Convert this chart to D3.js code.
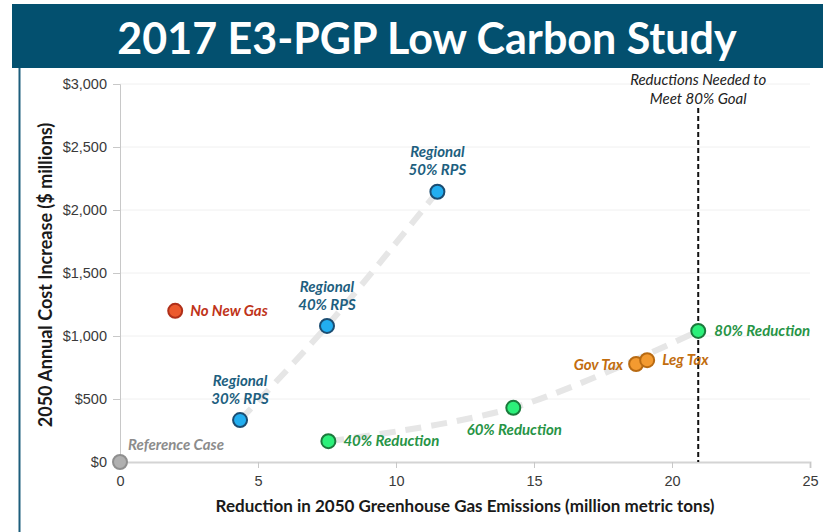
<!DOCTYPE html>
<html lang="en">
<head>
<meta charset="UTF-8">
<title>2017 E3-PGP Low Carbon Study</title>
<script src="https://cdn.jsdelivr.net/npm/d3@7"></script>
<style>
body { margin: 0; background: #fff; }
svg { display: block; font-family: Lato, "Open Sans", sans-serif; }
.tick text { fill: #3a3a3a; font-size: 14.5px; }
.lbl { font-weight: bold; font-style: italic; font-size: 15px; }
</style>
</head>
<body>
<svg width="823" height="532"></svg>
<script>
// scenarios: reduction (Mt), cost ($M)
var names   = ['Reference Case', 'No New Gas', 'Regional 30% RPS', 'Regional 40% RPS', 'Regional 50% RPS',
               '40% Reduction', '60% Reduction', '80% Reduction', 'Gov Tax', 'Leg Tax'];
var reduct  = [0, 2.0, 4.35, 7.5, 11.5, 7.55, 14.25, 20.95, 18.7, 19.1];
var cost    = [0, 1200, 333, 1080, 2145, 165, 430, 1040, 778, 808];
var group   = ['ref', 'gas', 'rps', 'rps', 'rps', 'red', 'red', 'red', 'tax', 'tax'];
var xTicks  = [0, 5, 10, 15, 20, 25];
var yTicks  = [0, 500, 1000, 1500, 2000, 2500, 3000];
var goalX   = 20.95;

var colors = {
  ref: { fill: '#b0b0b0', stroke: '#8f8f8f', text: '#8c8c8c' },
  gas: { fill: '#ec5a2e', stroke: '#b0301a', text: '#bf341a' },
  rps: { fill: '#22aef0', stroke: '#1b4d72', text: '#1e5f80' },
  red: { fill: '#2cf07a', stroke: '#1b7a3c', text: '#279446' },
  tax: { fill: '#f39a30', stroke: '#b86a12', text: '#c26d0e' }
};

var svg = d3.select('svg');

// header band + panel frame
svg.append('rect').attr('x', 12).attr('y', 4).attr('width', 811).attr('height', 64).attr('fill', '#03506f');
svg.append('text').attr('x', 427).attr('y', 54).attr('text-anchor', 'middle')
  .attr('fill', '#fff').attr('font-size', 43).attr('font-weight', 'bold')
  .text('2017 E3-PGP Low Carbon Study');
svg.append('line').attr('x1', 19.5).attr('x2', 19.5).attr('y1', 68).attr('y2', 532)
  .attr('stroke', '#1d5e7c').attr('stroke-width', 2);

var x = d3.scaleLinear().domain([0, 25]).range([120, 810]);
var y = d3.scaleLinear().domain([0, 3000]).range([462, 84]);

// gridlines
svg.append('g').selectAll('line').data(yTicks.slice(1)).join('line')
  .attr('x1', x(0)).attr('x2', x(25)).attr('y1', d => y(d)).attr('y2', d => y(d))
  .attr('stroke', '#f0f0f0').attr('stroke-width', 1);

var yAxis = svg.append('g').attr('transform', 'translate(' + x(0) + ',0)')
  .call(d3.axisLeft(y).tickValues(yTicks).tickSize(7).tickPadding(6)
    .tickFormat(d => '$' + d3.format(',')(d)));
yAxis.select('.domain').attr('stroke', '#c8c8c8');
yAxis.selectAll('.tick line').attr('stroke', '#c8c8c8');

var xAxis = svg.append('g').attr('transform', 'translate(0,' + y(0) + ')')
  .call(d3.axisBottom(x).tickValues(xTicks).tickSize(6).tickPadding(6));
xAxis.select('.domain').attr('stroke', '#d4d4d4').attr('stroke-width', 2);
xAxis.selectAll('.tick line').attr('stroke', '#c8c8c8');
xAxis.selectAll('.tick text').attr('dy', '0.85em');

svg.append('text').attr('transform', 'translate(52,' + ((y(0) + y(3000)) / 2 + 2) + ') rotate(-90)')
  .attr('text-anchor', 'middle').attr('font-weight', 'bold').attr('font-size', 18).attr('fill', '#1a1a1a')
  .text('2050 Annual Cost Increase ($ millions)');
svg.append('text').attr('x', 465).attr('y', 512).attr('text-anchor', 'middle')
  .attr('font-weight', 'bold').attr('font-size', 17).attr('fill', '#1a1a1a')
  .text('Reduction in 2050 Greenhouse Gas Emissions (million metric tons)');

// dashed trend curves
var pts = names.map((n, i) => ({ name: n, x: reduct[i], y: cost[i], g: group[i] }));
var line = d3.line().x(d => x(d.x)).y(d => y(d.y)).curve(d3.curveCatmullRom);
['rps', 'red'].forEach(function (g) {
  svg.append('path').datum(pts.filter(d => d.g == g)).attr('d', line)
    .attr('fill', 'none').attr('stroke', '#e6e6e6').attr('stroke-width', 6)
    .attr('stroke-dasharray', '16,10');
});

// goal line
svg.append('line').attr('x1', x(goalX)).attr('x2', x(goalX)).attr('y1', 108).attr('y2', y(0))
  .attr('stroke', '#111').attr('stroke-width', 2).attr('stroke-dasharray', '5,3');
svg.append('text').attr('x', x(goalX)).attr('y', 85).attr('text-anchor', 'middle')
  .attr('font-style', 'italic').attr('font-size', 15).attr('fill', '#222')
  .selectAll('tspan').data(['Reductions Needed to', 'Meet 80% Goal']).join('tspan')
  .attr('x', x(goalX)).attr('dy', (d, i) => i ? 19 : 0).text(d => d);

// points
svg.append('g').selectAll('circle').data(pts).join('circle')
  .attr('cx', d => x(d.x)).attr('cy', d => y(d.y)).attr('r', 7)
  .attr('fill', d => colors[d.g].fill).attr('stroke', d => colors[d.g].stroke).attr('stroke-width', 2);

// labels
var place = {
  'Reference Case': { dx: 8, dy: -12, a: 'start' },
  'No New Gas': { dx: 15, dy: 5, a: 'start' },
  'Regional 30% RPS': { dx: 0, dy: -34, a: 'middle', two: true },
  'Regional 40% RPS': { dx: 0, dy: -34, a: 'middle', two: true },
  'Regional 50% RPS': { dx: 0, dy: -35, a: 'middle', two: true },
  '40% Reduction': { dx: 15, dy: 5, a: 'start' },
  '60% Reduction': { dx: 1, dy: 27, a: 'middle' },
  '80% Reduction': { dx: 16, dy: 5, a: 'start' },
  'Gov Tax': { dx: -13, dy: 6, a: 'end' },
  'Leg Tax': { dx: 15, dy: 5, a: 'start' }
};
pts.forEach(function (d) {
  var p = place[d.name];
  var t = svg.append('text').attr('class', 'lbl').attr('fill', colors[d.g].text)
    .attr('text-anchor', p.a).attr('x', x(d.x) + p.dx).attr('y', y(d.y) + p.dy);
  if (p.two) {
    var parts = [d.name.split(' ')[0], d.name.split(' ').slice(1).join(' ')];
    t.selectAll('tspan').data(parts).join('tspan')
      .attr('x', x(d.x) + p.dx).attr('dy', (s, i) => i ? 18 : 0).text(s => s);
  } else {
    t.text(d.name);
  }
});
</script>
</body>
</html>
